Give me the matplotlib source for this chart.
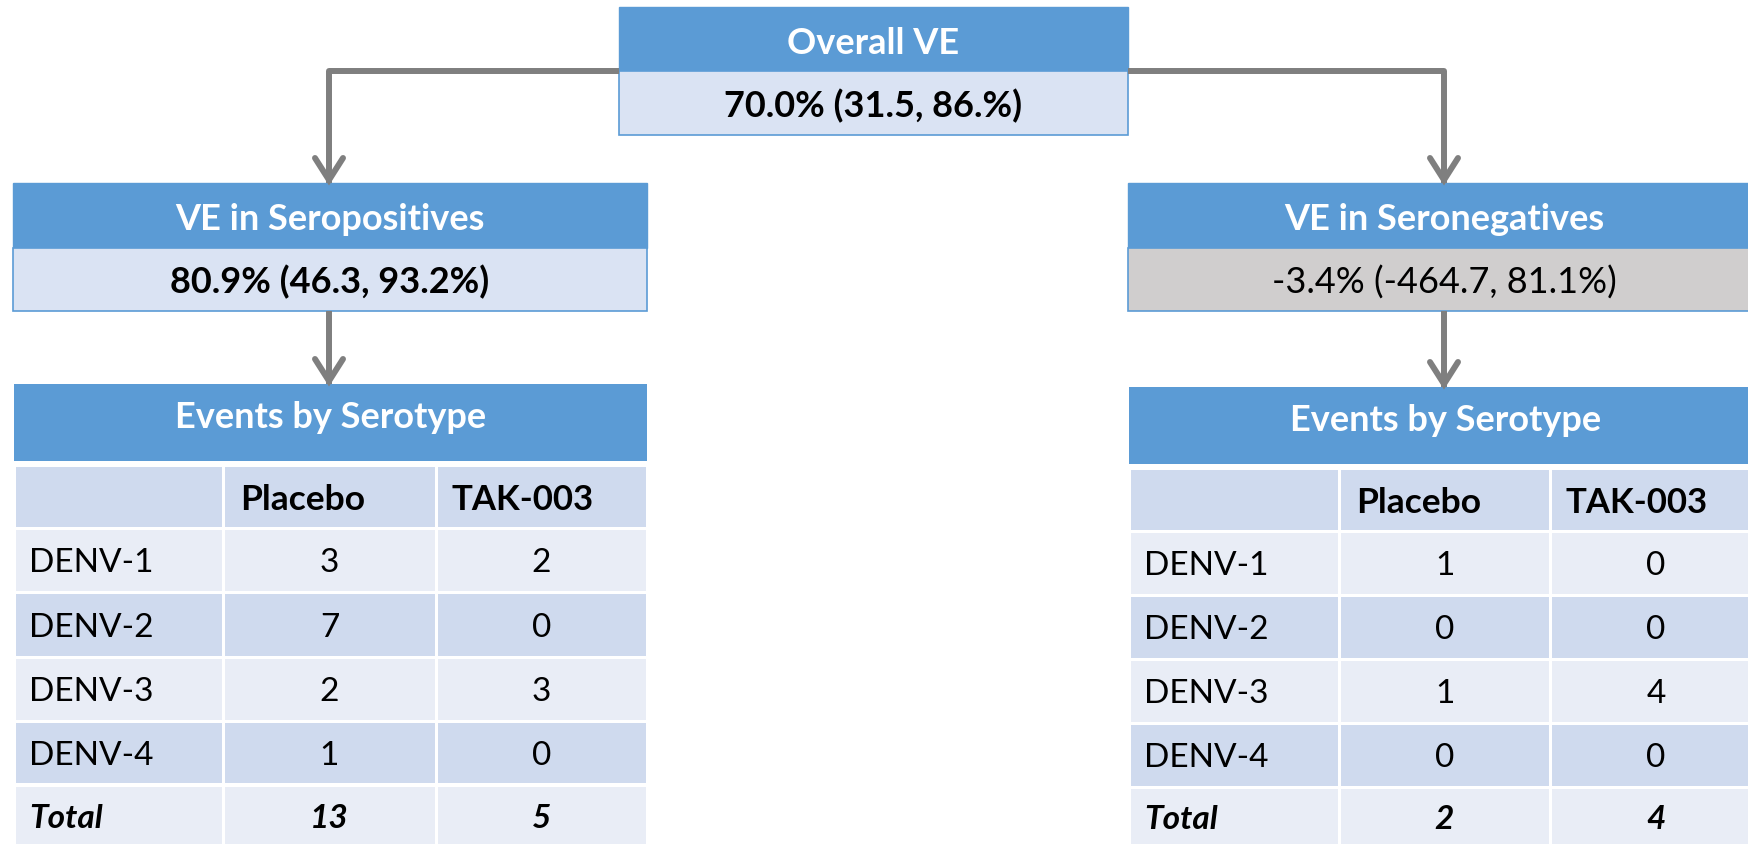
import matplotlib.pyplot as plt
from matplotlib.patches import Rectangle

plt.rcParams['font.family'] = ['Lato', 'DejaVu Sans']

# Data
overall_title = 'Overall VE'
overall_ve = '70.0% (31.5, 86.%)'
pos_title = 'VE in Seropositives'
pos_ve = '80.9% (46.3, 93.2%)'
neg_title = 'VE in Seronegatives'
neg_ve = '-3.4% (-464.7, 81.1%)'
table_title = 'Events by Serotype'
serotypes = ['DENV-1', 'DENV-2', 'DENV-3', 'DENV-4']
groups = ['Placebo', 'TAK-003']
pos_placebo = [3, 7, 2, 1]
pos_tak = [2, 0, 3, 0]
neg_placebo = [1, 0, 1, 0]
neg_tak = [0, 0, 4, 0]

# Colours
BLUE = '#5B9BD5'
PALE = '#DAE3F3'
GREY = '#D0CECE'
ROW_LIGHT = '#E9EDF6'
ROW_DARK = '#CFDAEE'
LINE = '#7F7F7F'

fig = plt.figure(figsize=(17.48, 8.45), dpi=100)
ax = fig.add_axes([0, 0, 1, 1])
ax.set_xlim(0, 1748)
ax.set_ylim(845, 0)
ax.axis('off')


def ve_box(x0, x1, y0, ys, y1, title, value, body_color, bold_value=True):
    ax.add_patch(Rectangle((x0, y0), x1 - x0, ys - y0, facecolor=BLUE,
                           edgecolor=BLUE, lw=1))
    ax.add_patch(Rectangle((x0, ys), x1 - x0, y1 - ys, facecolor=body_color,
                           edgecolor=BLUE, lw=1.2))
    ax.text((x0 + x1) / 2, (y0 + ys) / 2 + 3, title, color='white',
            fontsize=26, fontweight='bold', ha='center', va='center')
    ax.text((x0 + x1) / 2, (ys + y1) / 2 + 2, value, color='black',
            fontsize=26, fontweight='bold' if bold_value else 'normal',
            ha='center', va='center')


def connector(points):
    xs = [p[0] for p in points]
    ys = [p[1] for p in points]
    ax.plot(xs, ys, color=LINE, lw=4.3, solid_joinstyle='round',
            solid_capstyle='butt')
    tx, ty = points[-1]
    ax.plot([tx - 14, tx, tx + 14], [ty - 25, ty - 3, ty - 25], color=LINE,
            lw=4.3, solid_capstyle='round', solid_joinstyle='miter')


def events_table(cols, head, rows, placebo, tak):
    x0, x3 = cols[0], cols[-1]
    ax.add_patch(Rectangle((x0, head[0]), x3 - x0, head[1] - head[0],
                           facecolor=BLUE, edgecolor='none'))
    ax.text((x0 + x3) / 2, head[0] + 33, table_title, color='white',
            fontsize=26, fontweight='bold', ha='center', va='center')
    totals = [sum(placebo), sum(tak)]
    labels = [''] + serotypes + ['Total']
    vals_p = [groups[0]] + [str(v) for v in placebo] + [str(totals[0])]
    vals_t = [groups[1]] + [str(v) for v in tak] + [str(totals[1])]
    for i, (r0, r1) in enumerate(rows):
        fc = ROW_DARK if i % 2 == 0 else ROW_LIGHT
        for c in range(3):
            ax.add_patch(Rectangle((cols[c] + 1.5, r0), cols[c + 1] - cols[c] - 3,
                                   r1 - r0, facecolor=fc, edgecolor='none'))
        yc = (r0 + r1) / 2 + 2
        if i == 0:
            ax.text(cols[1] + 17, yc, vals_p[i], fontsize=25.5, fontweight='bold',
                    ha='left', va='center')
            ax.text(cols[2] + 16, yc, vals_t[i], fontsize=25, fontweight='bold',
                    ha='left', va='center')
            continue
        total = i == len(rows) - 1
        kw = dict(fontsize=24, fontweight='bold' if total else 'normal',
                  fontstyle='italic' if total else 'normal', va='center')
        ax.text(cols[0] + 15, yc, labels[i], ha='left', **kw)
        ax.text((cols[1] + cols[2]) / 2, yc, vals_p[i], ha='center', **kw)
        ax.text((cols[2] + cols[3]) / 2, yc, vals_t[i], ha='center', **kw)


# Connectors
connector([(619, 72), (329, 72), (329, 184)])
connector([(1128, 72), (1444, 72), (1444, 184)])
connector([(329, 312), (329, 385)])
connector([(1444, 312), (1444, 388)])

# VE boxes
ve_box(619, 1128, 8, 72, 136, overall_title, overall_ve, PALE)
ve_box(13, 647, 184, 249, 312, pos_title, pos_ve, PALE)
ve_box(1128, 1760, 184, 249, 312, neg_title, neg_ve, GREY, bold_value=False)

# Tables
events_table([14, 223, 436, 647], (385, 462),
             [(468, 528), (531, 592), (595, 657), (660, 721), (724, 784), (788, 845)],
             pos_placebo, pos_tak)
events_table([1129, 1339, 1550, 1762], (388, 465),
             [(471, 531), (534, 595), (598, 659), (662, 723), (726, 787), (790, 845)],
             neg_placebo, neg_tak)

plt.savefig('out.png', dpi=100)
